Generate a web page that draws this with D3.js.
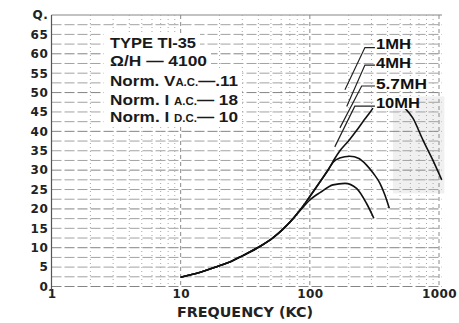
<!DOCTYPE html>
<html><head><meta charset="utf-8">
<script src="https://cdn.jsdelivr.net/npm/d3@7"></script>
<style>html,body{margin:0;padding:0;background:#fff;}</style>
</head><body>
<script>
// ---- data ----
const yTicks = [0,5,10,15,20,25,30,35,40,45,50,55,60,65,70];
const xTicks = [1,10,100,1000];
const stemF = [10,14,19,25,30,41,52,62,72,80];
const stemQ = [2.4,3.6,5.1,6.6,7.9,10.3,12.6,14.8,17.0,18.8];
const lowF = [90,100,110,120,151,187,230,275,313];
const lowQ = [20.7,22.3,23.4,24.2,26.2,26.6,25.3,21.4,17.6];
const riseF = [90,100,120,140];
const riseQ = [21.0,23.2,27.0,30.3];
const midF = [152,170,204,240,275,310,349,380,412];
const midQ = [32.1,33.1,33.6,33.0,31.3,29.2,26.6,23.7,20.2];
const steepF = [156,171,200,230,259,285,308];
const steepQ = [33.0,35.0,37.6,40.2,42.6,44.4,46.0];
const descF = [545,628,750,881,1050];
const descQ = [46.0,43.4,37.8,33.1,27.5];
const inductLabels = ["1MH","4MH","5.7MH","10MH"];
const inductLabelQ = [61.2,56.3,50.9,46.0];
const leaderQ = [61.6,57.1,51.7,46.5];
const leaderElbowF = [267,267,252,223];
const leaderEndF = [187,193,171,156];
const leaderEndQ = [50.7,46.4,40.9,36.0];
const specLines = [
  ["TYPE TI-35"],
  ["\u03A9/H \u2014 4100"],
  ["Norm. V","A.C.","\u2014.11"],
  ["Norm. I ","A.C.","\u2014 18"],
  ["Norm. I ","D.C.","\u2014 10"]
];

const W = 459, H = 323;
const svg = d3.select("body").append("svg").attr("width",W).attr("height",H)
  .style("background","#fff");
const x = d3.scaleLog().domain([1,1000]).range([51.5,439]);
const y = d3.scaleLinear().domain([0,70]).range([286.5,15]);

// halftone patch (scan artefact)
svg.append("rect").attr("x",x(440)).attr("y",y(49)).attr("width",x(1100)-x(440))
  .attr("height",y(24)-y(49)).attr("fill","#e2e2e2").attr("opacity",0.5);

// grid
const grid = svg.append("g");
d3.range(0,70.1,2.5).forEach(v=>{
  grid.append("line").attr("x1",x(1)).attr("x2",x(1000)+3).attr("y1",y(v)).attr("y2",y(v))
    .attr("stroke", v%10===0? "#858585":"#a2a2a2").attr("stroke-width",1)
    .attr("stroke-dasharray", v===70? null : "10,3");
});
const vLines = [];
[1,10,100].forEach(d=>{for(let k=1;k<10;k++) vLines.push(d*k);});
vLines.push(1000);
vLines.forEach(v=>{
  const dec = Math.abs(Math.log10(v)-Math.round(Math.log10(v)))<1e-9;
  grid.append("line").attr("x1",x(v)).attr("x2",x(v)).attr("y1",y(70)).attr("y2",y(0))
    .attr("stroke", dec? "#8a8a8a":"#a8a8a8").attr("stroke-width",1)
    .attr("stroke-dasharray", dec? (v===1?null:"4,3") : "1,3");
});

// axes (labels)
const fontTick = "'DejaVu Sans', sans-serif";
const ya = svg.append("g").attr("transform",`translate(${x(1)},0)`)
  .call(d3.axisLeft(y).tickValues(yTicks).tickSize(0).tickPadding(3)
    .tickFormat(d=> d===70 ? "Q." : d));
ya.select(".domain").remove();
ya.selectAll("text").attr("font-family",fontTick).attr("font-weight","bold")
  .attr("font-size",12).attr("fill","#222").attr("letter-spacing","0.6px");
const xa = svg.append("g").attr("transform",`translate(0,${y(0)})`)
  .call(d3.axisBottom(x).tickValues(xTicks).tickSize(0).tickPadding(3)
    .tickFormat(d3.format("d")));
xa.select(".domain").remove();
xa.selectAll("text").attr("font-family",fontTick).attr("font-weight","bold")
  .attr("font-size",12).attr("fill","#222").attr("letter-spacing","0.4px");
svg.append("text").attr("x",177).attr("y",317).attr("font-family",fontTick)
  .attr("font-weight","bold").attr("font-size",14).attr("fill","#222")
  .attr("textLength",136).attr("lengthAdjust","spacingAndGlyphs")
  .text("FREQUENCY (KC)");

// left axis line
svg.append("line").attr("x1",x(1)).attr("x2",x(1)).attr("y1",y(70)).attr("y2",y(0)+3)
  .attr("stroke","#555").attr("stroke-width",1.2);

// spec text block
const specG = svg.append("g");
const baselines = [48,66,86,105,122];
const widths = [86,97,128,128,128];
specLines.forEach((parts,i)=>{
  specG.append("rect").attr("x",104).attr("y",baselines[i]-15)
    .attr("width",widths[i]+10).attr("height",19).attr("fill","#fff");
});
specLines.forEach((parts,i)=>{
  const t = specG.append("text").attr("x",110).attr("y",baselines[i])
    .attr("font-family","'Liberation Sans', Arial, sans-serif").attr("font-weight","bold")
    .attr("font-size",15).attr("fill","#1a1a1a")
    .attr("textLength",widths[i]).attr("lengthAdjust","spacingAndGlyphs");
  parts.forEach((p,j)=>{
    t.append("tspan").attr("font-size", j===1? 10: 15).text(p);
  });
});

// curves
const line = d3.line().x(d=>x(d[0])).y(d=>y(d[1])).curve(d3.curveMonotoneX);
const zip = (f,q)=>f.map((v,i)=>[v,q[i]]);
const stem = zip(stemF,stemQ);
const series = [
  stem.concat(zip(lowF,lowQ)),
  stem.concat(zip(riseF,riseQ),zip(midF,midQ)),
  stem.concat(zip(riseF,riseQ),zip(steepF,steepQ)),
  zip(descF,descQ)
];
svg.append("g").selectAll("path").data(series).join("path")
  .attr("d",line).attr("fill","none").attr("stroke","#111").attr("stroke-width",1.6);

// inductance labels with leaders
const labG = svg.append("g");
inductLabels.forEach((s,i)=>{
  labG.append("path")
    .attr("d",`M${x(319)},${y(leaderQ[i])}L${x(leaderElbowF[i])},${y(leaderQ[i])}L${x(leaderEndF[i])},${y(leaderEndQ[i])}`)
    .attr("fill","none").attr("stroke","#222").attr("stroke-width",1.2);
});
inductLabels.forEach((s,i)=>{
  const tx = x(319)+1, ty = y(inductLabelQ[i]);
  labG.append("rect").attr("x",tx).attr("y",ty-11).attr("width",s.length*9.8+2).attr("height",12)
    .attr("fill","#fff");
  labG.append("text").attr("x",tx).attr("y",ty)
    .attr("font-family","'Liberation Sans', Arial, sans-serif").attr("font-weight","bold")
    .attr("font-size",15).attr("fill","#111")
    .attr("textLength", [35,35,51,44][i]).attr("lengthAdjust","spacingAndGlyphs")
    .text(s);
});
</script>
</body></html>
